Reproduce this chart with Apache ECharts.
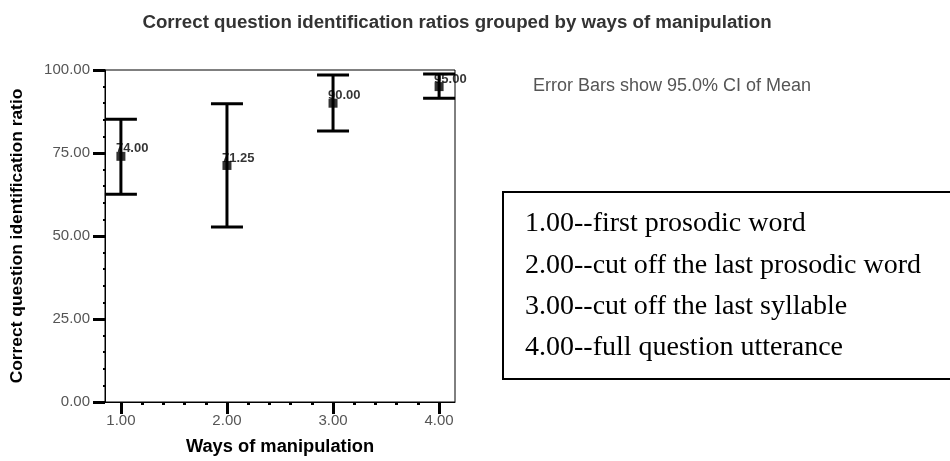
<!DOCTYPE html>
<html>
<head>
<meta charset="utf-8">
<script src="https://cdn.jsdelivr.net/npm/echarts@6/dist/echarts.min.js"></script>
<style>html,body{margin:0;padding:0;background:#fff}#c{width:950px;height:461px}</style>
</head>
<body>
<div id="c"></div>
<script>
const categories = [1, 2, 3, 4];
const tickLabels = ['1.00', '2.00', '3.00', '4.00'];
const means = [74.00, 71.25, 90.00, 95.00];
const ciLower = [62.6, 52.7, 81.6, 91.5];
const ciUpper = [85.2, 89.8, 98.5, 98.8];
const minorXTicks = [1.2, 1.4, 1.6, 1.8, 2.2, 2.4, 2.6, 2.8, 3.2, 3.4, 3.6, 3.8];
const titleText = 'Correct question identification ratios grouped by ways of manipulation';
const noteText = 'Error Bars show 95.0% CI of Mean';
const legendLines = ['1.00--first prosodic word', '2.00--cut off the last prosodic word', '3.00--cut off the last syllable', '4.00--full question utterance'];

const chart = echarts.init(document.getElementById('c'), null, {renderer: 'canvas'});
const font = 'Liberation Sans, Arial, sans-serif';

const errData = categories.map((c, i) => [c, ciLower[i], ciUpper[i]]);
const meanData = categories.map((c, i) => [c, means[i]]);

const option = {
  animation: false,
  title: {
    text: titleText,
    left: 452, top: 8, textAlign: 'center',
    textStyle: {fontFamily: font, fontSize: 18.7, fontWeight: 'bold', color: '#333'}
  },
  grid: {left: 105, right: 495, top: 70, bottom: 58, show: true, borderColor: '#000', borderWidth: 1},
  xAxis: [{
    type: 'value', min: 0.85, max: 4.15,
    name: 'Ways of manipulation', nameLocation: 'middle', nameGap: 36,
    nameTextStyle: {fontFamily: font, fontSize: 18.3, fontWeight: 'bold', color: '#000'},
    axisLine: {show: true, onZero: false, lineStyle: {color: '#000', width: 1}},
    axisTick: {show: true, customValues: categories, length: 12, lineStyle: {color: '#000', width: 3}},
    axisLabel: {customValues: categories, formatter: v => tickLabels[categories.indexOf(v)], fontFamily: font, fontSize: 15, color: '#555', margin: 11},
    splitLine: {show: false}
  }, {
    type: 'value', min: 0.85, max: 4.15, position: 'bottom',
    axisLine: {show: false},
    axisTick: {show: true, customValues: minorXTicks, length: 3, lineStyle: {color: '#000', width: 3}},
    axisLabel: {show: false},
    splitLine: {show: false}
  }],
  yAxis: {
    type: 'value', min: 0, max: 100, interval: 25,
    name: 'Correct question identification ratio', nameLocation: 'middle', nameGap: 79, nameRotate: 90,
    nameTextStyle: {fontFamily: font, fontSize: 17.4, fontWeight: 'bold', color: '#000'},
    axisLine: {show: true, lineStyle: {color: '#000', width: 1}},
    axisTick: {show: true, length: 12, lineStyle: {color: '#000', width: 3}},
    minorTick: {show: true, splitNumber: 5, length: 2, lineStyle: {color: '#000', width: 2}},
    axisLabel: {formatter: v => v.toFixed(2), fontFamily: font, fontSize: 15, color: '#555', margin: 15},
    splitLine: {show: false}
  },
  series: [{
    type: 'custom',
    data: errData,
    renderItem: function (params, api) {
      const x = api.value(0);
      const lo = api.coord([x, api.value(1)]);
      const hi = api.coord([x, api.value(2)]);
      const hw = 16;
      const st = {stroke: '#000', lineWidth: 3};
      return {
        type: 'group',
        children: [
          {type: 'line', shape: {x1: lo[0], y1: lo[1], x2: hi[0], y2: hi[1]}, style: st},
          {type: 'line', shape: {x1: lo[0] - hw, y1: lo[1], x2: lo[0] + hw, y2: lo[1]}, style: st},
          {type: 'line', shape: {x1: hi[0] - hw, y1: hi[1], x2: hi[0] + hw, y2: hi[1]}, style: st}
        ]
      };
    },
    z: 2
  }, {
    type: 'scatter',
    data: meanData,
    symbol: 'rect', symbolSize: 9,
    itemStyle: {color: '#000'},
    label: {
      show: true, position: [-0.5, -9.5], align: 'left', verticalAlign: 'top',
      formatter: p => p.value[1].toFixed(2),
      fontFamily: font, fontSize: 13, fontWeight: 'bold', color: '#000'
    },
    z: 3
  }],
  graphic: [
    {type: 'text', x: 533, y: 86, style: {text: noteText, font: '18px ' + font, fill: '#555', verticalAlign: 'middle'}},
    {type: 'rect', shape: {x: 503, y: 192, width: 460, height: 187}, style: {fill: 'none', stroke: '#000', lineWidth: 2}},
    ...legendLines.map((t, i) => ({
      type: 'text', x: 525, y: 224 + i * 41.3,
      style: {text: t, font: '28px "Liberation Serif", "Times New Roman", serif', fill: '#000', verticalAlign: 'middle'}
    }))
  ]
};
chart.setOption(option);
</script>
</body>
</html>
